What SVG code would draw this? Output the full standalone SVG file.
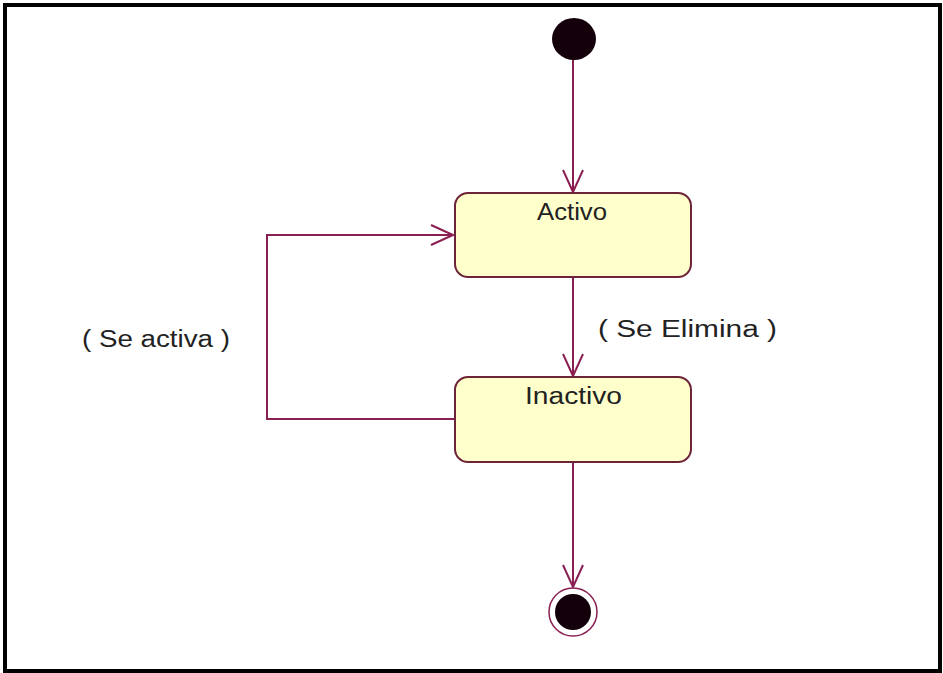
<svg xmlns="http://www.w3.org/2000/svg" width="943" height="673" viewBox="0 0 943 673">
  <style>
    .frame { fill: #ffffff; stroke: #000000; stroke-width: 4; }
    .state rect { fill: #ffffcc; stroke: #6e2438; stroke-width: 2; }
    .label { font-family: "Liberation Sans", Arial, sans-serif; font-size: 23px; fill: #222222; }
    .edge { fill: none; stroke: #8a1f52; stroke-width: 2; }
    .pseudo { fill: #14000a; }
  </style>
  <defs>
    <marker id="open-arrow" markerUnits="userSpaceOnUse" viewBox="-24 -12 26 24" refX="0" refY="0" markerWidth="26" markerHeight="24" orient="auto">
      <path d="M -22 -10 L 0 0 L -22 10" fill="none" stroke="#8a1f52" stroke-width="2"/>
    </marker>
  </defs>

  <!-- outer frame -->
  <rect class="frame" x="5" y="5" width="935" height="666"/>

  <!-- transitions -->
  <g id="connectors">
    <line class="edge" x1="573" y1="58" x2="573" y2="192" marker-end="url(#open-arrow)"/>
    <line class="edge" x1="573" y1="277" x2="573" y2="376" marker-end="url(#open-arrow)"/>
    <polyline class="edge" points="455,419 267,419 267,235 453,235" marker-end="url(#open-arrow)"/>
    <line class="edge" x1="573" y1="462" x2="573" y2="587" marker-end="url(#open-arrow)"/>
    <text class="label" x="598" y="337" textLength="179" lengthAdjust="spacingAndGlyphs">( Se Elimina )</text>
    <text class="label" x="82" y="347" textLength="148" lengthAdjust="spacingAndGlyphs">( Se activa )</text>
  </g>

  <!-- initial pseudo-state -->
  <g id="initial">
    <ellipse class="pseudo" cx="574" cy="39" rx="22" ry="21"/>
  </g>

  <!-- states -->
  <g id="activo" class="state">
    <rect x="455" y="193" width="236" height="84" rx="13" ry="13"/>
    <text class="label" x="537" y="220" textLength="70" lengthAdjust="spacingAndGlyphs">Activo</text>
  </g>

  <g id="inactivo" class="state">
    <rect x="455" y="377" width="236" height="85" rx="13" ry="13"/>
    <text class="label" x="525" y="404" textLength="97" lengthAdjust="spacingAndGlyphs">Inactivo</text>
  </g>

  <!-- final pseudo-state -->
  <g id="final">
    <ellipse cx="573" cy="612" rx="24" ry="24" fill="#ffffff" stroke="#8a1f52" stroke-width="1.5"/>
    <ellipse class="pseudo" cx="573" cy="612" rx="18" ry="18"/>
  </g>
</svg>
